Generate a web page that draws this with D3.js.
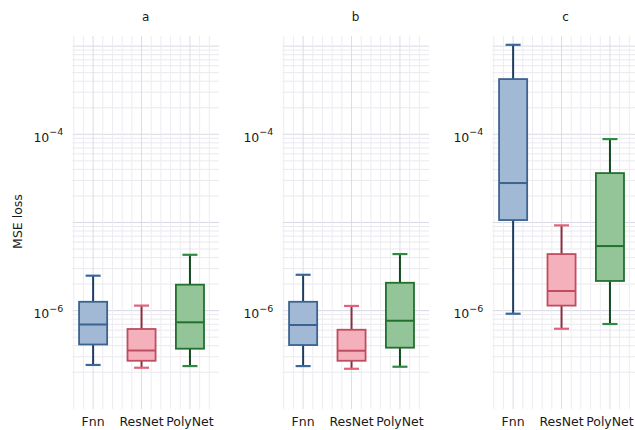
<!DOCTYPE html>
<html>
<head>
<meta charset="utf-8">
<script src="https://cdn.jsdelivr.net/npm/d3@7"></script>
<style>
  html, body { margin: 0; padding: 0; background: #ffffff; }
  svg { display: block; }
  text { font-family: "DejaVu Sans", sans-serif; fill: #1a1a1a; }
</style>
</head>
<body>
<svg id="chart" width="635" height="430"></svg>
<script>
// ---- data (five-number summaries: lower whisker, q1, median, q3, upper whisker) ----
const panels = ["a", "b", "c"];
const categories = ["Fnn", "ResNet", "PolyNet"];
const panelA = [
  [2.42e-7, 4.13e-7, 6.96e-7, 1.26e-6, 2.49e-6],
  [2.25e-7, 2.70e-7, 3.53e-7, 6.19e-7, 1.14e-6],
  [2.35e-7, 3.70e-7, 7.37e-7, 1.97e-6, 4.30e-6]
];
const panelB = [
  [2.35e-7, 4.07e-7, 6.87e-7, 1.26e-6, 2.55e-6],
  [2.19e-7, 2.70e-7, 3.51e-7, 6.07e-7, 1.13e-6],
  [2.31e-7, 3.80e-7, 7.68e-7, 2.07e-6, 4.38e-6]
];
const panelC = [
  [9.22e-7, 1.065e-5, 2.80e-5, 4.23e-4, 1.035e-3],
  [6.23e-7, 1.14e-6, 1.67e-6, 4.38e-6, 9.27e-6],
  [7.05e-7, 2.17e-6, 5.40e-6, 3.63e-5, 8.82e-5]
];
const panelStats = [panelA, panelB, panelC];
const yTickValues = [1e-4, 1e-6];
const yTickExponents = ["−4", "−6"];
const yLabel = "MSE loss";

// ---- styles ----
const fillColors    = ["#a1b9d4", "#f4b1bb", "#93c598"];
const edgeColors    = ["#3a6390", "#c04c60", "#22702f"];
const whiskerColors = ["#1f3d63", "#8a2e3d", "#0f4a1c"];
const capColors     = ["#3b689a", "#e0627a", "#2f8a42"];

const svg = d3.select("#chart");
const panelW = 146.7, panelStep = 210, firstLeft = 72.3;
const y = d3.scaleLog().domain([7.66e-8, 1.303e-3]).range([409, 36]);

// gridline values (log minor/major)
const gridVals = [];
for (let e = -8; e <= -3; e++) {
  for (let m = 1; m <= 9; m++) {
    const v = m * Math.pow(10, e);
    if (v >= 1.5e-7 && v <= y.domain()[1]) gridVals.push({v, major: m === 1});
  }
}
const xGridUnits = d3.range(-0.4, 2.41, 0.2);

panels.forEach((name, p) => {
  const left = firstLeft + p * panelStep;
  const x = d3.scaleLinear().domain([-0.43, 2.6]).range([left, left + panelW]);
  const g = svg.append("g");

  // horizontal grid
  g.selectAll("line.hg").data(gridVals).enter().append("line")
    .attr("x1", left).attr("x2", left + panelW)
    .attr("y1", d => y(d.v)).attr("y2", d => y(d.v))
    .attr("stroke", d => d.major ? "#d9d9e4" : "#e9e9f0")
    .attr("stroke-width", 1);

  // vertical grid
  g.selectAll("line.vg").data(xGridUnits).enter().append("line")
    .attr("x1", d => x(d)).attr("x2", d => x(d))
    .attr("y1", 36).attr("y2", 409)
    .attr("stroke", d => Math.abs(d - Math.round(d)) < 1e-6 ? "#dcdce6" : "#ececf2")
    .attr("stroke-width", 1);

  // title
  svg.append("text")
    .attr("x", left + panelW / 2).attr("y", 21)
    .attr("text-anchor", "middle").attr("font-size", 12)
    .text(name);

  // y tick labels
  yTickValues.forEach((tv, i) => {
    const t = svg.append("text")
      .attr("x", left - 9).attr("y", y(tv) + 7.4)
      .attr("text-anchor", "end").attr("font-size", 12.5);
    t.append("tspan").text("10");
    t.append("tspan").attr("dy", -6.5).attr("font-size", 9.5).text(yTickExponents[i]);
  });

  // x tick labels
  svg.selectAll(null).data(categories).enter().append("text")
    .attr("x", (d, i) => x(i)).attr("y", 426)
    .attr("text-anchor", "middle").attr("font-size", 12.5)
    .text(d => d);

  // boxes
  const stats = panelStats[p];
  const boxHalf = (x(0.29) - x(0));
  const capHalf = (x(0.155) - x(0));
  stats.forEach((s, i) => {
    const cx = x(i);
    const [lo, q1, med, q3, hi] = s;
    // whiskers
    g.append("line").attr("x1", cx).attr("x2", cx)
      .attr("y1", y(q3)).attr("y2", y(hi))
      .attr("stroke", whiskerColors[i]).attr("stroke-width", 2);
    g.append("line").attr("x1", cx).attr("x2", cx)
      .attr("y1", y(q1)).attr("y2", y(lo))
      .attr("stroke", whiskerColors[i]).attr("stroke-width", 2);
    // caps
    [lo, hi].forEach(v => {
      g.append("line").attr("x1", cx - capHalf).attr("x2", cx + capHalf)
        .attr("y1", y(v)).attr("y2", y(v))
        .attr("stroke", capColors[i]).attr("stroke-width", 2.2);
    });
    // box
    g.append("rect")
      .attr("x", cx - boxHalf).attr("width", 2 * boxHalf)
      .attr("y", y(q3)).attr("height", y(q1) - y(q3))
      .attr("fill", fillColors[i])
      .attr("stroke", edgeColors[i]).attr("stroke-width", 1.8);
    // median
    g.append("line").attr("x1", cx - boxHalf).attr("x2", cx + boxHalf)
      .attr("y1", y(med)).attr("y2", y(med))
      .attr("stroke", edgeColors[i]).attr("stroke-width", 2);
  });
});

// y-axis label
svg.append("text")
  .attr("transform", "translate(22,221.5) rotate(-90)")
  .attr("text-anchor", "middle").attr("font-size", 12.5)
  .text(yLabel);
</script>
</body>
</html>
